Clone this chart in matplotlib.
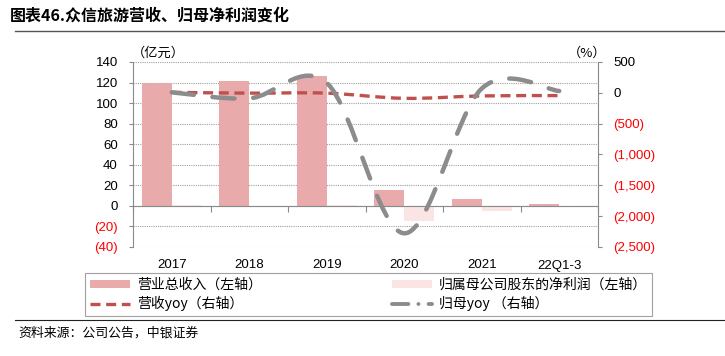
"""众信旅游营收、归母净利润变化 — bars on the left axis, smoothed yoy lines on the right."""

import matplotlib

matplotlib.use("Agg")
import matplotlib.pyplot as plt
from matplotlib.lines import Line2D
from matplotlib.patches import Patch, PathPatch
from matplotlib.path import Path

plt.rcParams["font.family"] = ["Liberation Sans", "Noto Sans CJK SC", "DejaVu Sans"]

# --- data (亿元 / %)
categories = ["2017", "2018", "2019", "2020", "2021", "22Q1-3"]
revenue = [119.5, 121.5, 126.0, 15.6, 6.6, 2.2]
net_profit = [0.8, 0.3, 0.5, -15.0, -5.4, -0.4]
revenue_yoy = [8, -5, -5, -89, -50, -45]
profit_yoy = [8, -90, 160, -2278, 70, 30]

left_ticks = [-40, -20, 0, 20, 40, 60, 80, 100, 120, 140]
right_ticks = [-2500, -2000, -1500, -1000, -500, 0, 500]

RED = "#FF0000"
BAR_REV = "#E8AAAA"
BAR_NP = "#FAE4E4"
LINE_RED = "#C0504D"
LINE_GRAY = "#8C8C8C"
AXIS_GRAY = "#8A8A8A"


def _smooth_path(xs, ys):
    """Catmull-Rom curve through the points, as cubic Bezier segments (Excel-style smoothing)."""
    pts = list(zip(xs, ys))
    ext = [pts[0]] + pts + [pts[-1]]
    verts = [pts[0]]
    codes = [Path.MOVETO]
    for i in range(1, len(ext) - 2):
        p0, p1, p2, p3 = ext[i - 1], ext[i], ext[i + 1], ext[i + 2]
        c1 = (p1[0] + (p2[0] - p0[0]) / 6, p1[1] + (p2[1] - p0[1]) / 6)
        c2 = (p2[0] - (p3[0] - p1[0]) / 6, p2[1] - (p3[1] - p1[1]) / 6)
        verts += [c1, c2, p2]
        codes += [Path.CURVE4] * 3
    return Path(verts, codes)


def _fmt(v):
    return f"({abs(v):,})" if v < 0 else f"{v:,}"


fig = plt.figure(figsize=(7.25, 3.56), dpi=100)
ax = fig.add_axes([133 / 725, 1 - 247 / 356, 465 / 725, 185 / 356])
ax2 = ax.twinx()

x = list(range(len(categories)))
bw = 0.39
ax.bar([i - bw for i in x], revenue, width=bw, align="edge", color=BAR_REV, zorder=2)
ax.bar(x, net_profit, width=bw, align="edge", color=BAR_NP, zorder=2)

ax.set_xlim(-0.5, len(categories) - 0.5)
ax.set_ylim(-40, 140)
ax.set_yticks(left_ticks)
ax.set_yticklabels([_fmt(v) for v in left_ticks], fontsize=9.5)
for lab, v in zip(ax.get_yticklabels(), left_ticks):
    lab.set_color(RED if v < 0 else "black")
ax.grid(axis="y", linestyle=(0, (1, 1)), color="#A0A0A0", linewidth=0.8, zorder=0)

# category boundaries as ticks on the zero line, labels below the plot
ax.spines["bottom"].set_position(("data", 0))
ax.set_xticks([i - 0.5 for i in range(len(categories) + 1)])
ax.tick_params(axis="x", length=4, color=AXIS_GRAY, labelbottom=False)
for i, cat in enumerate(categories):
    ax.annotate(cat, xy=(i, -40), xytext=(0, -9), textcoords="offset points",
                ha="center", va="top", fontsize=9.5)

for a in (ax, ax2):
    a.spines["top"].set_visible(False)
    for s in ("left", "right", "bottom"):
        a.spines[s].set_color(AXIS_GRAY)
ax.spines["right"].set_visible(False)
ax2.spines["left"].set_visible(False)
ax2.spines["bottom"].set_visible(False)
ax.tick_params(axis="y", length=3, pad=8, color=AXIS_GRAY)

ax2.set_ylim(-2500, 500)
ax2.set_yticks(right_ticks)
ax2.set_yticklabels([_fmt(v) for v in right_ticks], fontsize=9.5)
for lab, v in zip(ax2.get_yticklabels(), right_ticks):
    lab.set_color(RED if v < 0 else "black")
ax2.tick_params(axis="y", length=3, pad=8, color=AXIS_GRAY)

red_style = dict(linestyle=(0, (3.0, 1.7)), linewidth=2.4, color=LINE_RED)
gray_style = dict(linestyle=(0, (5.0, 4.2)), linewidth=3.2, color=LINE_GRAY)

p_red = PathPatch(_smooth_path(x, revenue_yoy), fill=False, transform=ax2.transData,
                  capstyle="butt", zorder=3, **red_style)
p_gray = PathPatch(_smooth_path(x, profit_yoy), fill=False, transform=ax2.transData,
                   capstyle="round", zorder=4, **gray_style)
ax2.add_patch(p_red)
ax2.add_patch(p_gray)

cjk = ["Noto Sans CJK SC", "DejaVu Sans"]
fig.text(132 / 725, 1 - 53 / 356, "（亿元）", fontsize=9.5, family=cjk, va="center", ha="left")
fig.text(606 / 725, 1 - 53 / 356, "（%）", fontsize=9.5, family=cjk, va="center", ha="right")

# legend
handles = [
    Patch(facecolor=BAR_REV, edgecolor="none"),
    Line2D([], [], **red_style),
    Patch(facecolor=BAR_NP, edgecolor="none"),
    Line2D([], [], linestyle=(0, (4.2, 2.6, 0.01, 2.6)), linewidth=2.8, color=LINE_GRAY,
           dash_capstyle="round"),
]
labels = ["营业总收入（左轴）", "营收yoy（右轴）", "归属母公司股东的净利润（左轴）", "归母yoy （右轴）"]
leg = fig.legend(handles, labels, ncol=2, loc="upper left", mode="expand",
                 bbox_to_anchor=(85 / 725, 1 - 314 / 356, 567 / 725, 41 / 356),
                 prop={"family": cjk, "size": 10},
                 frameon=True, fancybox=False, handlelength=2.9, handleheight=0.5,
                 handletextpad=0.5, labelspacing=0.3, borderpad=0.35,
                 borderaxespad=0)
leg.get_frame().set_edgecolor(AXIS_GRAY)
leg.get_frame().set_linewidth(0.8)

# title, rules and source
fig.text(10 / 725, 1 - 16 / 356, "图表46.众信旅游营收、归母净利润变化", fontsize=11.5,
         fontweight="bold", family=cjk, va="center", ha="left")
fig.add_artist(Line2D([15 / 725, 1], [1 - 31 / 356] * 2, color="#555555", linewidth=1.0))
fig.add_artist(Line2D([15 / 725, 1], [1 - 320 / 356] * 2, color="#222222", linewidth=0.8))
fig.text(18 / 725, 1 - 333 / 356, "资料来源：公司公告，中银证券", fontsize=9.3,
         family=cjk, style="italic", va="center", ha="left")

fig.savefig("out.png", dpi=100)
